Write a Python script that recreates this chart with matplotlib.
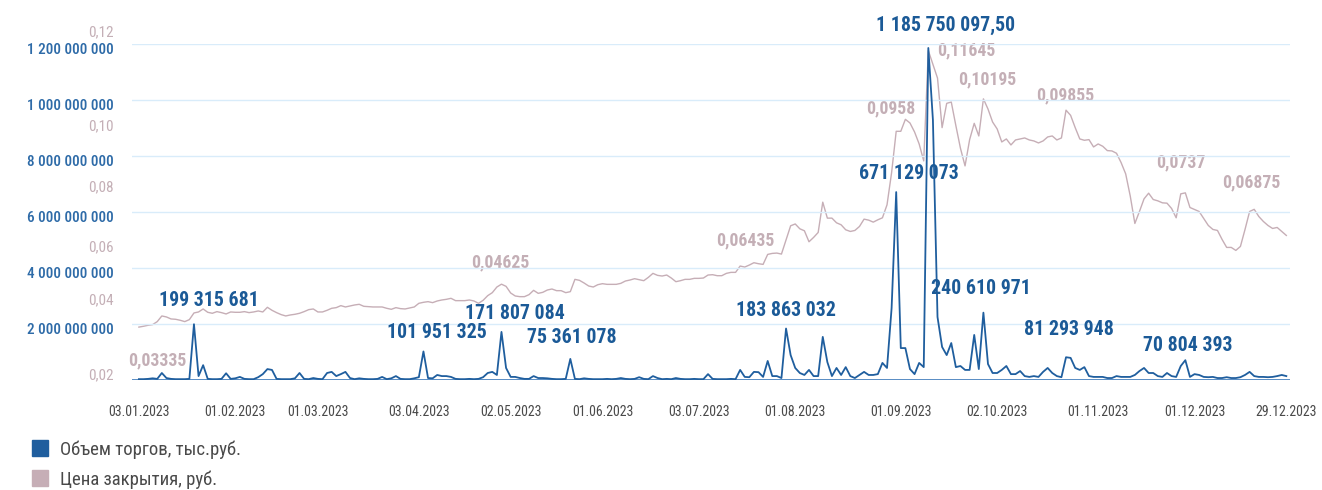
import matplotlib
matplotlib.use("Agg")
import matplotlib.pyplot as plt
import pandas as pd
from matplotlib import font_manager as fm
from matplotlib.lines import Line2D
from matplotlib.transforms import blended_transform_factory

# Moscow Exchange trading days of 2023
holidays = ["2023-02-23", "2023-02-24", "2023-03-08", "2023-05-01",
            "2023-05-08", "2023-05-09", "2023-06-12", "2023-11-06"]
dates = pd.bdate_range("2023-01-03", "2023-12-29").drop(pd.to_datetime(holidays))

# Closing price, rub.
price = [
    # Jan
    0.03335, 0.0336, 0.0339, 0.0341, 0.0350, 0.0367, 0.0364, 0.0358, 0.0357, 0.0354, 0.0350,
    0.0356, 0.0376, 0.0379, 0.0388, 0.0378, 0.0375, 0.0380, 0.0377, 0.0373, 0.0379,
    # Feb
    0.0378, 0.0378, 0.0380, 0.0377, 0.0379, 0.0382, 0.0379, 0.0393, 0.0384, 0.0377, 0.0371,
    0.0367, 0.0370, 0.0372, 0.0375, 0.0380, 0.0386, 0.0388,
    # Mar
    0.0379, 0.0379, 0.0384, 0.0390, 0.0392, 0.0398, 0.0394, 0.0397, 0.0400, 0.0402, 0.0396,
    0.0395, 0.0394, 0.0394, 0.0394, 0.0390, 0.0387, 0.0392, 0.0389, 0.0388, 0.0391, 0.0394,
    # Apr
    0.0405, 0.0408, 0.0410, 0.0407, 0.0412, 0.0415, 0.0417, 0.0420, 0.0413, 0.0413, 0.0413,
    0.0415, 0.0412, 0.0405, 0.0414, 0.0428, 0.0437, 0.0454, 0.04625, 0.0456,
    # May
    0.0436, 0.0427, 0.0425, 0.0425, 0.0431, 0.0444, 0.0435, 0.0438, 0.0445, 0.0448, 0.0443,
    0.0443, 0.0437, 0.0440, 0.0477, 0.0474, 0.0466, 0.0457, 0.0454, 0.0461,
    # Jun
    0.0464, 0.0462, 0.0462, 0.0462, 0.0465, 0.0472, 0.0475, 0.0479, 0.0476, 0.0473, 0.0483,
    0.0495, 0.0489, 0.0487, 0.0490, 0.0481, 0.0470, 0.0473, 0.0477, 0.0477, 0.0480,
    # Jul
    0.0480, 0.0481, 0.0490, 0.0491, 0.0488, 0.0488, 0.0495, 0.0498, 0.0498, 0.0517, 0.0514,
    0.0520, 0.0527, 0.0524, 0.0522, 0.0552, 0.0555, 0.0556, 0.0553, 0.0595, 0.0638,
    # Aug
    0.06435, 0.0629, 0.0623, 0.0590, 0.0603, 0.0618, 0.0709, 0.0661, 0.0661, 0.0647, 0.0641,
    0.0626, 0.0621, 0.0624, 0.0636, 0.0658, 0.0655, 0.0649, 0.0656, 0.0662, 0.0701, 0.0798,
    0.0922,
    # Sep
    0.0922, 0.0958, 0.0947, 0.0920, 0.0884, 0.0833, 0.11645, 0.1123, 0.1082, 0.0933, 0.1006,
    0.1010, 0.0939, 0.0871, 0.0818, 0.0897, 0.0946, 0.0908, 0.10195, 0.0989, 0.0950,
    # Oct
    0.0929, 0.0890, 0.0899, 0.0881, 0.0896, 0.0899, 0.0902, 0.0896, 0.0893, 0.0887, 0.0893,
    0.0905, 0.0908, 0.0896, 0.0902, 0.09855, 0.0970, 0.0933, 0.0899, 0.0895, 0.0897, 0.0875,
    # Nov
    0.0884, 0.0877, 0.0864, 0.0863, 0.0856, 0.0828, 0.0794, 0.0727, 0.0645, 0.0681, 0.0719,
    0.0736, 0.0717, 0.0713, 0.0707, 0.0706, 0.0690, 0.0662, 0.0734, 0.0737, 0.0693,
    # Dec
    0.0687, 0.0681, 0.0660, 0.0639, 0.0627, 0.0624, 0.0597, 0.0573, 0.0573, 0.0564, 0.0576,
    0.0627, 0.0681, 0.06875, 0.0666, 0.0651, 0.0639, 0.0630, 0.0633, 0.0621, 0.0609,
]

# Trading volume
volume = [
    # Jan
    3e6, 3e6, 4e6, 6e6, 4e6, 25e6, 7e6, 4e6, 3e6, 3e6, 3e6, 4e6, 199315681, 14e6, 53e6,
    4e6, 3e6, 3e6, 4e6, 24e6, 4e6,
    # Feb
    6e6, 11e6, 4e6, 3e6, 3e6, 10e6, 21e6, 39e6, 36e6, 4e6, 3e6, 3e6, 3e6, 6e6, 25e6, 4e6,
    3e6, 7e6,
    # Mar
    4e6, 3e6, 25e6, 29e6, 14e6, 21e6, 29e6, 7e6, 3e6, 6e6, 4e6, 3e6, 3e6, 4e6, 11e6, 3e6,
    6e6, 14e6, 4e6, 3e6, 3e6, 6e6,
    # Apr
    10e6, 101951325, 7e6, 6e6, 18e6, 14e6, 14e6, 11e6, 4e6, 3e6, 3e6, 4e6, 3e6, 4e6, 10e6,
    25e6, 29e6, 18e6, 171807084, 43e6,
    # May
    11e6, 11e6, 7e6, 4e6, 4e6, 14e6, 7e6, 7e6, 6e6, 4e6, 3e6, 3e6, 4e6, 75361078, 4e6, 3e6,
    6e6, 4e6, 3e6, 3e6,
    # Jun
    3e6, 4e6, 3e6, 4e6, 7e6, 4e6, 3e6, 4e6, 10e6, 4e6, 3e6, 14e6, 7e6, 3e6, 4e6, 3e6, 7e6,
    4e6, 3e6, 3e6, 4e6,
    # Jul
    3e6, 3e6, 21e6, 4e6, 3e6, 3e6, 3e6, 4e6, 3e6, 36e6, 11e6, 10e6, 29e6, 28e6, 11e6, 68e6,
    14e6, 14e6, 7e6, 183863032, 89e6,
    # Aug
    43e6, 25e6, 18e6, 36e6, 14e6, 14e6, 154e6, 64e6, 14e6, 43e6, 18e6, 46e6, 14e6, 7e6, 18e6,
    29e6, 18e6, 18e6, 21e6, 61e6, 43e6, 257e6, 671129073,
    # Sep
    114e6, 114e6, 39e6, 21e6, 61e6, 46e6, 1185750097.50, 929e6, 225e6, 118e6, 89e6, 132e6,
    46e6, 50e6, 36e6, 36e6, 161e6, 39e6, 240610971, 57e6, 25e6,
    # Oct
    25e6, 36e6, 50e6, 21e6, 21e6, 32e6, 14e6, 11e6, 14e6, 11e6, 29e6, 43e6, 25e6, 14e6, 10e6,
    81293948, 79e6, 43e6, 36e6, 46e6, 14e6, 11e6,
    # Nov
    11e6, 11e6, 7e6, 7e6, 14e6, 11e6, 11e6, 11e6, 18e6, 32e6, 43e6, 25e6, 25e6, 14e6, 11e6,
    25e6, 14e6, 11e6, 50e6, 70804393, 11e6,
    # Dec
    21e6, 18e6, 11e6, 10e6, 11e6, 7e6, 7e6, 10e6, 7e6, 7e6, 10e6, 18e6, 29e6, 14e6, 11e6,
    11e6, 10e6, 11e6, 14e6, 18e6, 14e6,
]

x_tick_dates = ["03.01.2023", "01.02.2023", "01.03.2023", "03.04.2023", "02.05.2023",
                "01.06.2023", "03.07.2023", "01.08.2023", "01.09.2023", "02.10.2023",
                "01.11.2023", "01.12.2023", "29.12.2023"]

volume_ticks = [200e6, 400e6, 600e6, 800e6, 1000e6, 1200e6]
volume_tick_labels = ["2 000 000 000", "4 000 000 000", "6 000 000 000",
                      "8 000 000 000", "1 000 000 000", "1 200 000 000"]
price_ticks = [0.02, 0.04, 0.06, 0.08, 0.10, 0.12]
price_tick_labels = ["0,02", "0,04", "0,06", "0,08", "0,10", "0,12"]

volume_callouts = [199315681, 101951325, 171807084, 75361078, 183863032,
                   671129073, 1185750097.50, 240610971, 81293948, 70804393]
price_callouts = [0.03335, 0.04625, 0.06435, 0.0958, 0.11645, 0.10195, 0.09855,
                  0.0737, 0.06875]

legend_labels = ["Объем торгов, тыс.руб.", "Цена закрытия, руб."]

# ---- fonts: prefer a narrow face if one is installed ----
installed = {f.name for f in fm.fontManager.ttflist}
FAMILY = "Roboto"
for cand in ["Roboto Condensed", "DejaVu Sans Condensed", "Liberation Sans Narrow",
             "Noto Sans Condensed", "Open Sans Condensed"]:
    if cand in installed:
        FAMILY = cand
        break
plt.rcParams["font.family"] = [FAMILY, "DejaVu Sans"]

# ---- styling ----
BLUE = "#1f5e9e"
BLUE_TXT = "#1b5a97"
BLUE_TICK = "#2e6ba8"
PINK = "#c6aeb6"
PINK_TXT = "#c4afb6"
GRID = "#d9ecfa"
GREY = "#4a4a4a"

FS_YTICK = 11
FS_XTICK = 10
FS_VCALL = 14.3
FS_PCALL = 12.8
FS_LEG = 13.5

fig = plt.figure(figsize=(13.22, 4.90), dpi=100)
ax = fig.add_axes([132 / 1322, 1 - 380 / 490, (1290 - 132) / 1322, 336 / 490])
ax2 = ax.twinx()

x = list(range(len(dates)))
date_labels = [d.strftime("%d.%m.%Y") for d in dates]

ax.set_xlim(-1.5, 250.8)
ax.set_ylim(0, 1.2e9)
ax2.set_ylim(0.01745, 0.11844)

for v in volume_ticks:
    ax.axhline(v, color=GRID, lw=1.0, zorder=0)
ax.axhline(0, color="#4b84bf", lw=1.3, zorder=1)

ax2.plot(x, price, color=PINK, lw=1.0, zorder=2)
ax.plot(x, volume, color=BLUE, lw=1.3, zorder=3)
ax.set_zorder(ax2.get_zorder() + 1)
ax.patch.set_visible(False)

for a in (ax, ax2):
    for s in a.spines.values():
        s.set_visible(False)
    a.set_yticks([])
ax2.set_xticks([])

tick_pos = [date_labels.index(d) for d in x_tick_dates]
ax.set_xticks(tick_pos)
ax.set_xticklabels(x_tick_dates, fontsize=FS_XTICK, color=GREY)
ax.tick_params(axis="x", length=0, pad=18)

# y-axis labels for both scales, stacked on the left
tr_vol = blended_transform_factory(ax.transAxes, ax.transData)
for v, lab in zip(volume_ticks, volume_tick_labels):
    ax.annotate(lab, xy=(0, v), xycoords=tr_vol, xytext=(-18, -6),
                textcoords="offset pixels", ha="right", va="center",
                fontsize=FS_YTICK, color=BLUE_TICK, fontweight="medium",
                annotation_clip=False)

price_label_shift = [-3.5, 5, -9, -15, -21, 7]
tr_pr = blended_transform_factory(ax2.transAxes, ax2.transData)
for v, lab, dy in zip(price_ticks, price_tick_labels, price_label_shift):
    ax2.annotate(lab, xy=(0, v), xycoords=tr_pr, xytext=(-18, dy),
                 textcoords="offset pixels", ha="right", va="center",
                 fontsize=FS_YTICK, color=PINK_TXT, annotation_clip=False)


def ru_number(v):
    s = f"{v:,.2f}" if v % 1 else f"{v:,.0f}"
    return s.replace(",", " ").replace(".", ",")


vol_offsets = [(15, 24), (13, 19), (13, 18), (1, 21), (0, 18),
               (13, 19), (17, 23), (-2, 24), (3, 28), (2, 15)]
for v, (dx, dy) in zip(volume_callouts, vol_offsets):
    i = volume.index(v)
    ax.annotate(ru_number(v), xy=(i, v), xytext=(dx, dy), textcoords="offset pixels",
                ha="center", va="center", fontsize=FS_VCALL, fontweight="bold",
                color=BLUE_TXT, annotation_clip=False, zorder=5)

price_offsets = [(18, -33), (-1, 22), (-50, -16), (-15, 11), (38, 0),
                 (4, 19), (-1, 15), (-5, 30), (-3, 27)]
for v, (dx, dy) in zip(price_callouts, price_offsets):
    i = price.index(v)
    ax2.annotate(str(v).replace(".", ","), xy=(i, v), xytext=(dx, dy),
                 textcoords="offset pixels", ha="center", va="center",
                 fontsize=FS_PCALL, fontweight="bold", color=PINK_TXT,
                 annotation_clip=False, zorder=5)

handles = [Line2D([], [], marker="s", ls="", markersize=11, color=BLUE),
           Line2D([], [], marker="s", ls="", markersize=11, color=PINK)]
fig.legend(handles, legend_labels, loc="upper left",
           bbox_to_anchor=(22 / 1322, 1 - 431 / 490),
           frameon=False, fontsize=FS_LEG, labelcolor=GREY, handletextpad=0.6,
           labelspacing=0.62, borderpad=0, handlelength=0.9)

fig.savefig("out.png", dpi=100)
